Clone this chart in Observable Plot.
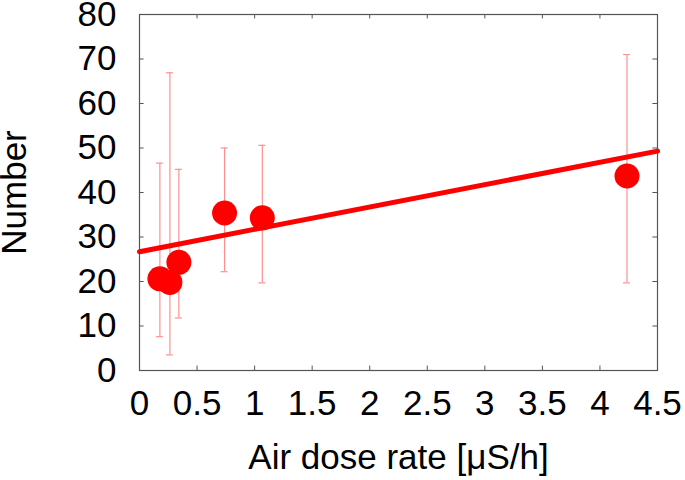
<!DOCTYPE html>
<html>
<head>
<meta charset="utf-8">
<script src="https://cdn.jsdelivr.net/npm/d3@7"></script>
<script src="https://cdn.jsdelivr.net/npm/@observablehq/plot@0.6"></script>
<style>
  html, body { margin: 0; padding: 0; background: #fff; }
  #chart svg { display: block; }
</style>
</head>
<body>
<div id="chart"></div>
<script>
// Data
const doseRate = [0.177, 0.264, 0.342, 0.739, 1.067, 4.235];
const number   = [20.6, 19.8, 24.3, 35.4, 34.3, 43.7];
const errLow   = [7.6, 3.5, 11.8, 22.2, 19.7, 19.7];
const errHigh  = [46.6, 66.9, 45.2, 50.0, 50.6, 71.0];
const fitX = [0, 4.5];
const fitY = [26.7, 49.3];
const xTicks = [0, 0.5, 1, 1.5, 2, 2.5, 3, 3.5, 4, 4.5];
const yTicks = [0, 10, 20, 30, 40, 50, 60, 70, 80];

const points = doseRate.map((x, i) => ({x, y: number[i], lo: errLow[i], hi: errHigh[i]}));
const fit = fitX.map((x, i) => ({x, y: fitY[i]}));

const capHalf = 0.03;   // cap half-width in x units
const tickLenX = 0.04;  // inward tick length in x units
const tickLenY = 1.0;   // inward tick length in y units

const chart = Plot.plot({
  width: 685,
  height: 480,
  marginLeft: 139,
  marginRight: 28,
  marginTop: 14,
  marginBottom: 110,
  style: {fontFamily: "'Liberation Sans', Arial, Helvetica, sans-serif", fontSize: "35px", color: "#000", background: "#fff", overflow: "visible"},
  x: {domain: [0, 4.5]},
  y: {domain: [0, 80]},
  marks: [
    // inward ticks (left/right/bottom/top)
    Plot.ruleY(yTicks, {y: d => d, x1: 0, x2: tickLenX, stroke: "#555", strokeWidth: 1}),
    Plot.ruleY(yTicks, {y: d => d, x1: 4.5 - tickLenX, x2: 4.5, stroke: "#555", strokeWidth: 1}),
    Plot.ruleX(xTicks, {x: d => d, y1: 0, y2: tickLenY, stroke: "#555", strokeWidth: 1}),
    Plot.ruleX(xTicks, {x: d => d, y1: 80 - tickLenY, y2: 80, stroke: "#555", strokeWidth: 1}),
    Plot.frame({stroke: "#555", strokeWidth: 1.2}),
    Plot.axisX({ticks: xTicks, tickSize: 0, tickPadding: 20, fontSize: 35,
      tickFormat: d => String(d),
      label: "Air dose rate [\u03BCS/h]", labelAnchor: "center", labelArrow: "none", labelOffset: 98}),
    Plot.axisY({ticks: yTicks, tickSize: 0, tickPadding: 23, fontSize: 35,
      tickFormat: d => String(d),
      label: "Number", labelAnchor: "center", labelArrow: "none", labelOffset: 138}),
    // error bars
    Plot.ruleX(points, {x: "x", y1: "lo", y2: "hi", stroke: "#ff9090", strokeWidth: 1.2}),
    Plot.ruleY(points, {y: "lo", x1: d => d.x - capHalf, x2: d => d.x + capHalf, stroke: "#ff9090", strokeWidth: 1.2}),
    Plot.ruleY(points, {y: "hi", x1: d => d.x - capHalf, x2: d => d.x + capHalf, stroke: "#ff9090", strokeWidth: 1.2}),
    // fit line
    Plot.line(fit, {x: "x", y: "y", stroke: "#ff0000", strokeWidth: 5}),
    // points
    Plot.dot(points, {x: "x", y: "y", r: 12.5, fill: "#ff0000", stroke: "none"})
  ]
});
document.getElementById("chart").appendChild(chart);
</script>
</body>
</html>
